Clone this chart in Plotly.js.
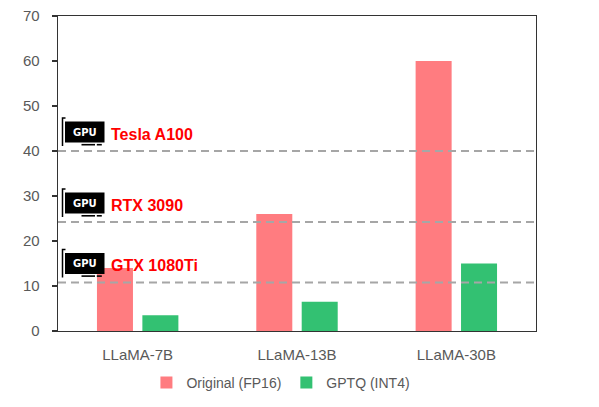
<!DOCTYPE html>
<html>
<head>
<meta charset="utf-8">
<script src="https://cdn.plot.ly/plotly-3.0.1.min.js"></script>
<style>html,body{margin:0;padding:0;background:#fff;}#chart{width:599px;height:407px;}</style>
</head>
<body>
<div id="chart"></div>
<script>
// ---- data ----
const models = ["LLaMA-7B", "LLaMA-13B", "LLaMA-30B"];
const fp16Memory = [14, 26, 60];
const int4Memory = [3.5, 6.5, 15];
const seriesNames = ["Original (FP16)", "GPTQ (INT4)"];
const gpuNames = ["Tesla A100", "RTX 3090", "GTX 1080Ti"];
const gpuMemory = [40, 24.2, 10.8];
const yTicks = [0, 10, 20, 30, 40, 50, 60, 70];

// ---- geometry ----
const W = 599, H = 407;
const M = {l: 58, r: 63, t: 16, b: 76};
const plotW = W - M.l - M.r, plotH = H - M.t - M.b;
const yMax = 70;
const unitPx = plotH / yMax;
const px = x => (x - M.l) / plotW;          // pixel x -> paper x
const du = p => p / unitPx;                  // pixel height -> data units

const traces = [
  {type: "bar", name: seriesNames[0], x: models, y: fp16Memory,
   marker: {color: "#FF7C80", line: {width: 0}}, hoverinfo: "y"},
  {type: "bar", name: seriesNames[1], x: models, y: int4Memory,
   marker: {color: "#33C172", line: {width: 0}}, hoverinfo: "y"}
];

const shapes = [];
const annotations = [];
gpuMemory.forEach((v, i) => {
  // dashed threshold line
  shapes.push({type: "line", xref: "paper", yref: "y", x0: 0, x1: 1, y0: v, y1: v,
    line: {color: "#A6A6A6", width: 2, dash: "8px,5px"}, layer: "above"});
  // GPU icon: bracket
  shapes.push({type: "path", xref: "paper", yref: "y",
    path: `M ${px(65.5)} ${v + du(33)} L ${px(62.5)} ${v + du(33)} L ${px(62.5)} ${v + du(5)}`,
    line: {color: "#000", width: 1.5}, layer: "above"});
  // GPU icon: board
  shapes.push({type: "rect", xref: "paper", yref: "y",
    x0: px(65), x1: px(104.5), y0: v + du(8.5), y1: v + du(29.5),
    fillcolor: "#000", line: {width: 0}, layer: "above"});
  // GPU icon: connector
  shapes.push({type: "line", xref: "paper", yref: "y",
    x0: px(81.5), x1: px(95), y0: v + du(6.3), y1: v + du(6.3),
    line: {color: "#000", width: 1.6}, layer: "above"});
  shapes.push({type: "line", xref: "paper", yref: "y",
    x0: px(96.8), x1: px(101.8), y0: v + du(6.3), y1: v + du(6.3),
    line: {color: "#000", width: 1.6}, layer: "above"});
  annotations.push({xref: "paper", yref: "y", x: px(84.8), y: v + du(19),
    text: "<b>GPU</b>", showarrow: false, xanchor: "center", yanchor: "middle",
    font: {family: "DejaVu Sans, sans-serif", size: 10, color: "#fff"}});
  annotations.push({xref: "paper", yref: "y", x: px(108.5), y: v + du(17),
    text: "<b>" + gpuNames[i] + "</b>", showarrow: false, xanchor: "left", yanchor: "middle",
    font: {family: "Liberation Sans, Arial, sans-serif", size: 16, color: "#FF0000"}});
});

const layout = {
  width: W, height: H,
  margin: M,
  paper_bgcolor: "#fff", plot_bgcolor: "#fff",
  font: {family: "Liberation Sans, Arial, sans-serif", color: "#595959"},
  barmode: "group", bargap: 0.43, bargroupgap: 0.207,
  xaxis: {
    type: "category", showgrid: false, zeroline: false,
    showline: true, mirror: true, linecolor: "#333", linewidth: 1.3,
    ticks: "", tickfont: {size: 15, color: "#595959"}, ticklabelstandoff: 10
  },
  yaxis: {
    range: [0, yMax], tickvals: yTicks, ticktext: yTicks.map(String),
    showgrid: false, zeroline: false,
    showline: true, mirror: true, linecolor: "#333", linewidth: 1.3,
    ticks: "outside", ticklen: 5, tickcolor: "#333", tickwidth: 1.3,
    tickfont: {size: 15, color: "#595959"}, ticklabelstandoff: 9
  },
  showlegend: true,
  legend: {orientation: "h", xref: "container", yref: "container",
    x: 0.469, xanchor: "center", y: 24 / H, yanchor: "middle",
    font: {size: 14, color: "#595959"}, itemwidth: 30, tracegroupgap: 0},
  shapes: shapes,
  annotations: annotations
};

Plotly.newPlot("chart", traces, layout, {displayModeBar: false, staticPlot: true});
</script>
</body>
</html>
